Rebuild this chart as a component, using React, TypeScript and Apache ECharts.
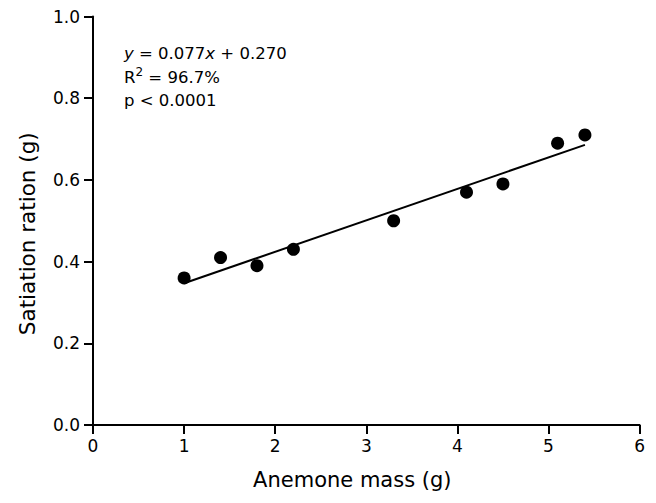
import React, { useEffect, useRef } from "react";
import * as echarts from "echarts";

const massX = [1.0, 1.4, 1.8, 2.2, 3.3, 4.1, 4.5, 5.1, 5.4];
const rationY = [0.36, 0.41, 0.39, 0.43, 0.5, 0.57, 0.59, 0.69, 0.71];
const slope = 0.077;
const intercept = 0.27;
const fitRange = [1.0, 5.4];
const xTitle = "Anemone mass (g)";
const yTitle = "Satiation ration (g)";

export default function App() {
  const ref = useRef<HTMLDivElement>(null);
  useEffect(() => {
    if (!ref.current) return;
    const chart = echarts.init(ref.current, null, { renderer: "svg" });
    const font = "DejaVu Sans, Liberation Sans, Arial, sans-serif";
    const fitLine = fitRange.map((x) => [x, slope * x + intercept]);
    chart.setOption({
      animation: false,
      backgroundColor: "#fff",
      grid: { left: 84, right: 8, top: 8, bottom: 61 },
      xAxis: {
        type: "value",
        min: 0,
        max: 6,
        interval: 1,
        name: xTitle,
        nameLocation: "middle",
        nameGap: 44,
        nameTextStyle: { fontSize: 21, color: "#000", fontFamily: font, padding: [0, 28, 0, 0] },
        axisLine: { lineStyle: { color: "#000", width: 2 } },
        axisTick: { length: 9, lineStyle: { color: "#000", width: 2 } },
        axisLabel: { fontSize: 17, color: "#000", fontFamily: font, margin: 12 },
        splitLine: { show: false },
      },
      yAxis: {
        type: "value",
        min: 0,
        max: 1,
        interval: 0.2,
        name: yTitle,
        nameLocation: "middle",
        nameGap: 55,
        nameTextStyle: { fontSize: 21.5, color: "#000", fontFamily: font, padding: [0, 26, 0, 0] },
        axisLine: { show: true, lineStyle: { color: "#000", width: 2 } },
        axisTick: { show: true, length: 9, lineStyle: { color: "#000", width: 2 } },
        axisLabel: {
          fontSize: 17,
          color: "#000",
          fontFamily: font,
          margin: 13,
          formatter: (v: number) => v.toFixed(1),
        },
        splitLine: { show: false },
      },
      series: [
        {
          type: "line",
          data: fitLine,
          showSymbol: false,
          symbol: "none",
          lineStyle: { color: "#000", width: 2 },
          z: 1,
        },
        {
          type: "scatter",
          data: massX.map((x, i) => [x, rationY[i]]),
          symbolSize: 13,
          itemStyle: { color: "#000", opacity: 1 },
          z: 2,
        },
      ],
      graphic: [
        {
          type: "text",
          left: 116,
          top: 34,
          style: {
            text: "{i|y} = 0.077{i|x} + 0.270\nR{s|2} = 96.7%\np < 0.0001",
            fontSize: 16.5,
            fontFamily: font,
            fill: "#000",
            lineHeight: 23.5,
            rich: {
              i: { fontStyle: "italic", fontSize: 16.5, fontFamily: font, fill: "#000", lineHeight: 23.5 },
              s: { fontSize: 12, fontFamily: font, fill: "#000", verticalAlign: "top", lineHeight: 23.5 },
            },
          },
        },
      ],
    });
    return () => chart.dispose();
  }, []);
  return <div ref={ref} style={{ width: 640, height: 487 }} />;
}
